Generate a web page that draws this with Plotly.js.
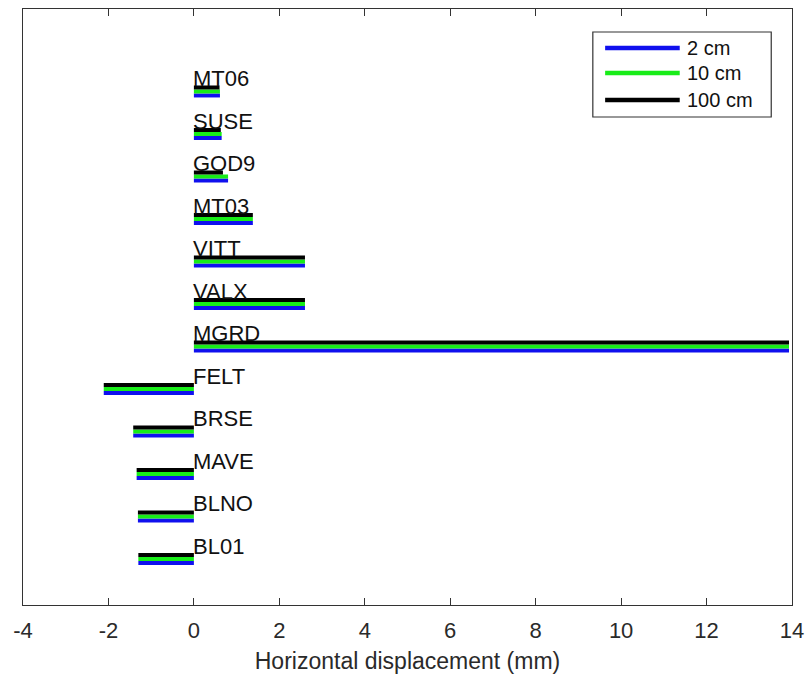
<!DOCTYPE html>
<html>
<head>
<meta charset="utf-8">
<script src="https://cdn.plot.ly/plotly-3.0.1.min.js"></script>
<style>html,body{margin:0;padding:0;background:#fff;}#chart{width:807px;height:679px;}</style>
</head>
<body>
<div id="chart"></div>
<script>
// Stations listed bottom to top
const stations = ['BL01','BLNO','MAVE','BRSE','FELT','MGRD','VALX','VITT','MT03','GOD9','SUSE','MT06'];
const disp2cm   = [-1.30,-1.31,-1.34,-1.42,-2.11,13.93,2.60,2.60,1.38,0.80,0.65,0.61];
const disp10cm  = [-1.30,-1.31,-1.34,-1.42,-2.11,13.93,2.60,2.60,1.38,0.80,0.65,0.61];
const disp100cm = [-1.30,-1.31,-1.34,-1.42,-2.11,13.93,2.60,2.60,1.38,0.68,0.63,0.60];
const seriesNames = ['2 cm','10 cm','100 cm'];
const seriesColors = ['#1010ee','#18ec18','#000000'];
const xTicks = [-4,-2,0,2,4,6,8,10,12,14];

const pos = stations.map((s,i)=>i+1);
const allData = [disp2cm, disp10cm, disp100cm];
const barW = 0.094;
const offsets = [-0.141, -0.047, 0.047];

const traces = allData.map((vals,k)=>({
  type:'bar', orientation:'h', y:pos, x:vals, name:seriesNames[k],
  width:barW, offset:offsets[k], base:0,
  marker:{color:seriesColors[k], line:{width:0}},
  showlegend:false, hoverinfo:'skip'
}));

const annotations = stations.map((s,i)=>({
  x:0, y:pos[i]+0.30, xref:'x', yref:'y', text:s, showarrow:false,
  xanchor:'left', yanchor:'middle', xshift:-3,
  font:{family:'Liberation Sans, Arial, sans-serif', size:22, color:'#111'}
}));

// manual legend (paper coordinates)
const shapes = [{type:'rect', xref:'paper', yref:'paper', x0:0.741, x1:0.973, y0:0.8188, y1:0.9614,
  line:{color:'#333', width:1.2}, fillcolor:'#fff', layer:'above'}];
const rowY = [0.9346, 0.8926, 0.8473];
seriesNames.forEach((n,k)=>{
  shapes.push({type:'line', xref:'paper', yref:'paper', x0:0.757, x1:0.854, y0:rowY[k], y1:rowY[k],
    line:{color:seriesColors[k], width:4.5}, layer:'above'});
  annotations.push({xref:'paper', yref:'paper', x:0.861, y:rowY[k], text:n, showarrow:false,
    xanchor:'left', yanchor:'middle',
    font:{family:'Liberation Sans, Arial, sans-serif', size:20, color:'#111'}});
});

const layout = {
  width:807, height:679,
  margin:{l:23, r:15, t:9, b:74},
  paper_bgcolor:'#fff', plot_bgcolor:'#fff',
  barmode:'overlay',
  showlegend:false,
  font:{family:'Liberation Sans, Arial, sans-serif', color:'#262626'},
  xaxis:{range:[-4,14], tickvals:xTicks, ticktext:xTicks.map(String),
    ticks:'inside', ticklen:7, tickwidth:1.2, tickcolor:'#333',
    showline:true, linecolor:'#333', linewidth:1.4, mirror:'ticks',
    showgrid:false, zeroline:false, ticklabelstandoff:5,
    tickfont:{size:22, color:'#2a2a2a'},
    title:{text:'Horizontal displacement (mm)', font:{size:23, color:'#2a2a2a'}, standoff:11}},
  yaxis:{range:[-0.08,13.94], showticklabels:false, ticks:'',
    showline:true, linecolor:'#333', linewidth:1.4, mirror:true,
    showgrid:false, zeroline:false},
  shapes:shapes,
  annotations:annotations
};

Plotly.newPlot('chart', traces, layout, {staticPlot:true, displayModeBar:false});
</script>
</body>
</html>
